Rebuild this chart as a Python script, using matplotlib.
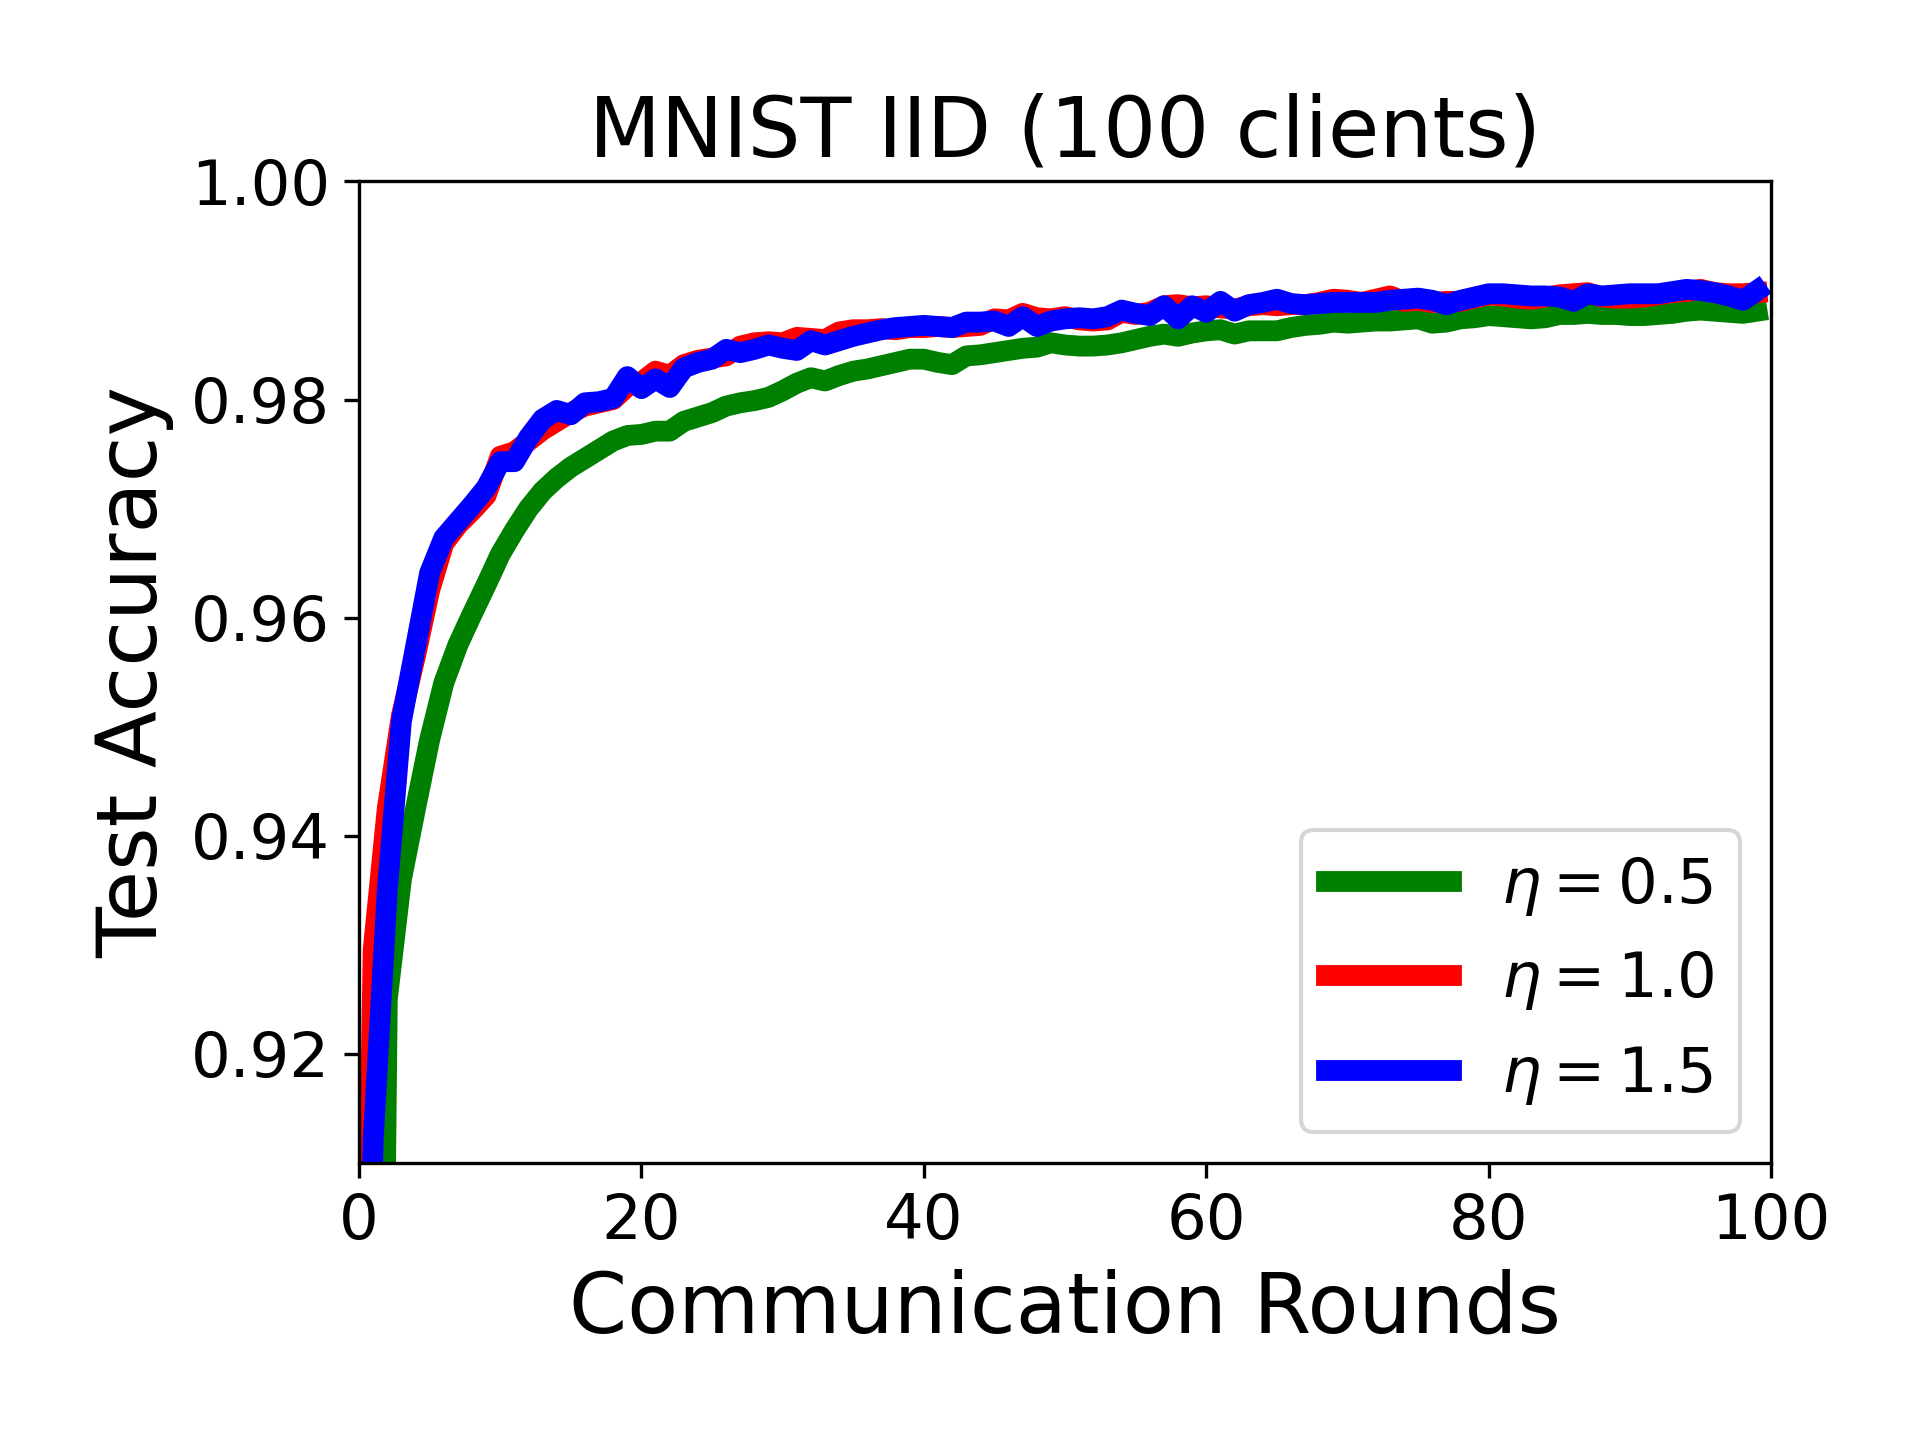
import matplotlib
matplotlib.use("Agg")
import matplotlib.pyplot as plt
import numpy as np

rounds = list(range(100))

acc_eta_05 = [0.70, 0.80, 0.925, 0.936, 0.9425, 0.9488, 0.9540, 0.9575, 0.9603, 0.9630,
              0.9658, 0.9680, 0.9700, 0.9716, 0.9728, 0.9738, 0.9746, 0.9754, 0.9762, 0.9767,
              0.9768, 0.9771, 0.9771, 0.9780, 0.9784, 0.9788, 0.9794, 0.9797, 0.9799, 0.9802,
              0.9808, 0.9815, 0.9820, 0.9817, 0.9822, 0.9826, 0.9828, 0.9831, 0.9834, 0.9837,
              0.9837, 0.9834, 0.9832, 0.9840, 0.9841, 0.9843, 0.9845, 0.9847, 0.9848, 0.9852,
              0.9850, 0.9849, 0.9849, 0.9850, 0.9852, 0.9855, 0.9858, 0.9860, 0.9858, 0.9861,
              0.9863, 0.9864, 0.9860, 0.9863, 0.9863, 0.9863, 0.9866, 0.9868, 0.9869, 0.9871,
              0.9870, 0.9871, 0.9872, 0.9872, 0.9873, 0.9874, 0.9870, 0.9871, 0.9874, 0.9875,
              0.9877, 0.9876, 0.9875, 0.9874, 0.9875, 0.9878, 0.9878, 0.9879, 0.9878, 0.9878,
              0.9877, 0.9877, 0.9878, 0.9879, 0.9881, 0.9882, 0.9881, 0.9880, 0.9879, 0.9881]

acc_eta_10 = [0.85, 0.9295, 0.9425, 0.9510, 0.9565, 0.9625, 0.9668, 0.9685, 0.9698, 0.9712,
              0.9748, 0.9752, 0.9762, 0.9772, 0.9780, 0.9788, 0.9794, 0.9797, 0.9800, 0.9812,
              0.9816, 0.9826, 0.9822, 0.9832, 0.9836, 0.9838, 0.9840, 0.9849, 0.9852, 0.9853,
              0.9852, 0.9857, 0.9856, 0.9855, 0.9862, 0.9864, 0.9864, 0.9865, 0.9864, 0.9866,
              0.9866, 0.9867, 0.9866, 0.9867, 0.9868, 0.9874, 0.9873, 0.9879, 0.9875, 0.9874,
              0.9876, 0.9873, 0.9872, 0.9873, 0.9880, 0.9878, 0.9880, 0.9886, 0.9887, 0.9885,
              0.9886, 0.9884, 0.9883, 0.9886, 0.9887, 0.9886, 0.9887, 0.9887, 0.9889, 0.9892,
              0.9891, 0.9889, 0.9892, 0.9895, 0.9890, 0.9891, 0.9889, 0.9890, 0.9890, 0.9893,
              0.9896, 0.9895, 0.9893, 0.9892, 0.9894, 0.9896, 0.9897, 0.9898, 0.9894, 0.9893,
              0.9893, 0.9894, 0.9896, 0.9898, 0.9899, 0.9901, 0.9898, 0.9897, 0.9897, 0.9898]

acc_eta_15 = [0.85, 0.912, 0.935, 0.9505, 0.9573, 0.9641, 0.9673, 0.9688, 0.9703, 0.9719,
              0.9743, 0.9743, 0.9765, 0.9782, 0.9790, 0.9786, 0.9797, 0.9798, 0.9801, 0.9821,
              0.9810, 0.9819, 0.9811, 0.9829, 0.9834, 0.9837, 0.9846, 0.9843, 0.9846, 0.9850,
              0.9847, 0.9845, 0.9854, 0.9850, 0.9854, 0.9858, 0.9861, 0.9864, 0.9866, 0.9867,
              0.9868, 0.9867, 0.9866, 0.9871, 0.9871, 0.9872, 0.9867, 0.9876, 0.9867, 0.9872,
              0.9874, 0.9875, 0.9874, 0.9876, 0.9882, 0.9879, 0.9877, 0.9886, 0.9874, 0.9886,
              0.9880, 0.9890, 0.9881, 0.9887, 0.9889, 0.9892, 0.9888, 0.9887, 0.9888, 0.9889,
              0.9889, 0.9889, 0.9889, 0.9891, 0.9892, 0.9893, 0.9891, 0.9887, 0.9891, 0.9894,
              0.9897, 0.9897, 0.9896, 0.9895, 0.9895, 0.9894, 0.9890, 0.9897, 0.9895, 0.9896,
              0.9897, 0.9897, 0.9897, 0.9899, 0.9901, 0.9900, 0.9898, 0.9895, 0.9891, 0.9900]

labels = [r'$\eta=0.5$', r'$\eta=1.0$', r'$\eta=1.5$']
colors = ['green', 'red', 'blue']
title = 'MNIST IID (100 clients)'
xlabel = 'Communication Rounds'
ylabel = 'Test Accuracy'

fig = plt.figure(figsize=(6.4, 4.8), dpi=300)
ax = fig.add_axes([0.187, 0.1925, 0.7355, 0.6815])

for series, lab, col in zip([acc_eta_05, acc_eta_10, acc_eta_15], labels, colors):
    ax.plot(rounds, series, color=col, linewidth=5, label=lab)

ax.set_xlim(0, 100)
ax.set_ylim(0.91, 1.00)
ax.set_yticks([0.92, 0.94, 0.96, 0.98, 1.00])
ax.set_xticks([0, 20, 40, 60, 80, 100])
ax.tick_params(labelsize=15)
ax.set_title(title, fontsize=20)
ax.set_xlabel(xlabel, fontsize=20)
ax.set_ylabel(ylabel, fontsize=20)
ax.legend(loc='lower right', fontsize=15)

fig.savefig('out.png', dpi=300)
